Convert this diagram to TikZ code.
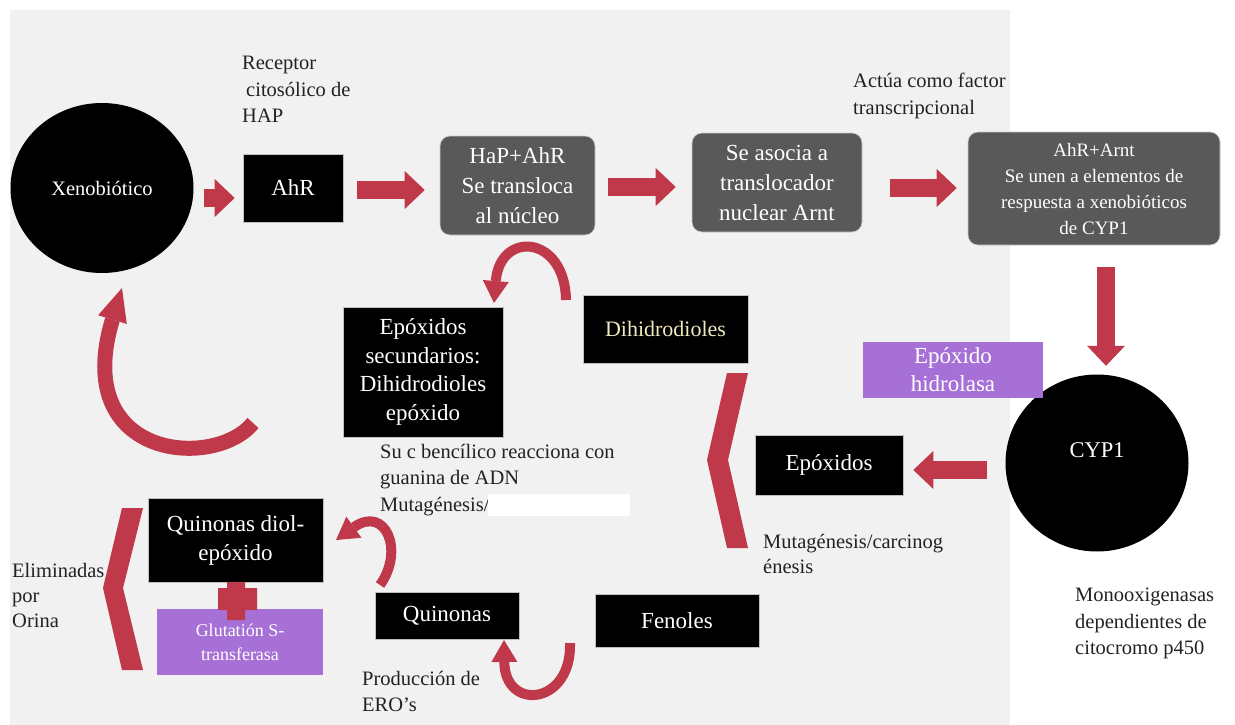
\documentclass[tikz,border=0pt]{standalone}
\usepackage{fontspec}
\setmainfont{Liberation Serif}
\usetikzlibrary{arrows.meta,shapes.geometric}
\definecolor{pagegrey}{RGB}{241,241,241}
\definecolor{boxgrey}{RGB}{89,89,89}
\definecolor{arrowred}{RGB}{192,57,75}
\definecolor{enzpurple}{RGB}{166,112,214}
\definecolor{paleyellow}{RGB}{240,232,190}
\definecolor{labelgrey}{RGB}{34,34,34}

\begin{document}
\begin{tikzpicture}[x=1pt,y=-1pt,
  blackbox/.style={fill=black,draw=gray!50,line width=0.6pt,text=white,align=center,inner sep=0pt,font=\fontsize{23}{29}\selectfont},
  greybox/.style={fill=boxgrey,draw=gray!40,line width=0.6pt,rounded corners=10pt,text=white,align=center,inner sep=0pt,font=\fontsize{23}{30}\selectfont},
  enzbox/.style={fill=enzpurple,text=white,align=center,inner sep=0pt,font=\fontsize{23}{28}\selectfont},
  blob/.style={ellipse,fill=black,text=white,inner sep=0pt,font=\fontsize{20.5}{25}\selectfont},
  note/.style={anchor=north west,align=left,inner sep=0pt,text=labelgrey,font=\fontsize{20.5}{26.5}\selectfont},
  fatarrow/.style={draw=arrowred,line width=18pt,-{Triangle[length=20pt,width=38pt,line width=0pt]}},
  curlarrow/.style={draw=arrowred,line width=10pt,-{Triangle[length=22pt,width=26pt,line width=0pt]}}]
  \useasboundingbox (0,0) rectangle (1235,725);
  \fill[pagegrey] (10,10) rectangle (1010,725);

  \node[blob,minimum width=183pt,minimum height=170pt] (xeno) at (102,188) {Xenobiótico};
  \node[blackbox,minimum width=100pt,minimum height=68pt] (ahr) at (293,188) {AhR};
  \node[greybox,minimum width=155pt,minimum height=99pt] (hap) at (517.5,185.5) {HaP+AhR\\Se transloca\\al núcleo};
  \node[greybox,minimum width=170pt,minimum height=99pt] (asocia) at (777,182.5) {Se asocia a\\translocador\\nuclear Arnt};
  \node[greybox,minimum width=252pt,minimum height=113pt,font=\fontsize{19}{26}\selectfont] (arnt) at (1094,188.5)
    {AhR+Arnt\\Se unen a elementos de\\respuesta a xenobióticos\\de CYP1};
  \node[blob,minimum width=183pt,minimum height=177pt,
    label={[text=white,font=\fontsize{22.5}{27}\selectfont,yshift=13pt]center:CYP1}] (cyp) at (1097,463) {};
  \node[enzbox,minimum width=180pt,minimum height=56pt] (epohid) at (953,370) {Epóxido\\hidrolasa};
  \node[blackbox,minimum width=148pt,minimum height=60pt] (epox) at (829,465) {Epóxidos};
  \node[blackbox,minimum width=165pt,minimum height=68pt,text=paleyellow,font=\fontsize{22}{28}\selectfont] (dihid) at (665.5,329) {Dihidrodioles};
  \node[blackbox,minimum width=160pt,minimum height=130pt,font=\fontsize{23}{28.5}\selectfont] (episec) at (423,372)
    {Epóxidos\\secundarios:\\Dihidrodioles\\epóxido};
  \node[blackbox,minimum width=175pt,minimum height=84pt] (quindiol) at (235.5,540) {Quinonas diol-\\epóxido};
  \node[enzbox,minimum width=166pt,minimum height=66pt,font=\fontsize{18}{24}\selectfont] (gluta) at (240,642) {Glutatión S-\\transferasa};
  \node[blackbox,minimum width=144pt,minimum height=47pt] (quin) at (447,615.5) {Quinonas};
  \node[blackbox,minimum width=164pt,minimum height=53pt] (fenol) at (677,620.5) {Fenoles};

  \node[note] (receptor) at (242,56) {Receptor\\\hspace*{4pt}citosólico de\\HAP};
  \node[note] (actua) at (853,73) {Actúa como factor\\transcripcional};
  \node[note] (sucben) at (380,444) {Su c bencílico reacciona con\\guanina de ADN\\Mutagénesis/};
  \node[note,font=\fontsize{20.5}{25}\selectfont] (mutcar) at (763,534) {Mutagénesis/carcinog\\énesis};
  \node[note] (monoox) at (1075,588) {Monooxigenasas\\dependientes de\\citocromo p450};
  \node[note,font=\fontsize{20.5}{25}\selectfont] (elimin) at (12,563) {Eliminadas\\por\\Orina};
  \node[note] (produc) at (362,671) {Producción de\\ERO’s};
  \fill[white] (488,494) rectangle (630,516);

  \draw[fatarrow,shorten <=10pt,shorten >=8pt] ([yshift=-10pt]xeno.east) -- ([yshift=-10pt]ahr.west);
  \draw[fatarrow,shorten <=14pt,shorten >=15pt] ([yshift=-2pt]ahr.east) -- ([yshift=-2pt]ahr.east -| hap.west);
  \draw[fatarrow,shorten <=13pt,shorten >=16pt] ([yshift=-1.5pt]hap.east) -- ([yshift=-1.5pt]hap.east -| asocia.west);
  \draw[fatarrow,shorten <=28pt,shorten >=11pt] ([yshift=-5.5pt]asocia.east) -- ([yshift=-5.5pt]asocia.east -| arnt.west);
  \draw[fatarrow,shorten <=22pt,shorten >=8.5pt] ([xshift=12pt]arnt.south) -- ([xshift=12pt]arnt.south |- cyp.north);
  \draw[fatarrow,shorten <=18.5pt,shorten >=10pt] ([yshift=-7pt]cyp.west) -- ([yshift=-7pt]cyp.west -| epox.east);

  \coordinate (backtail) at (253,423);
  \coordinate (backtip) at (122,288);
  \coordinate (dihtail) at (566,300);
  \coordinate (dihtip) at (494,303);
  \coordinate (quintail) at (380,585);
  \coordinate (quintip) at (336,540);
  \coordinate (fentail) at (570,643);
  \coordinate (fentip) at (504,640);
  \draw[curlarrow,line width=15pt,-{Triangle[length=33pt,width=30pt,line width=0pt]}]
    (backtail) .. controls (215,470) and (70,460) .. (backtip);
  \draw[curlarrow] (dihtail) .. controls (565,235) and (500,230) .. (dihtip);
  \draw[curlarrow] (quintail) .. controls (405,550) and (385,505) .. (quintip);
  \draw[curlarrow] (fentail) .. controls (572,705) and (505,712) .. (fentip);

  \fill[arrowred] (727,373) -- (748,373) -- (728,460) -- (748,548) -- (727,548) -- (707,460) -- cycle;
  \fill[arrowred] (122,508) -- (143,508) -- (123,588) -- (143,670) -- (122,670) -- (103,588) -- cycle;
  \fill[arrowred] (227,582) -- (245,582) -- (245,588) -- (257,588) -- (257,610) -- (245,610) -- (245,620)
    -- (227,620) -- (227,610) -- (218,610) -- (218,588) -- (227,588) -- cycle;
\end{tikzpicture}
\end{document}
